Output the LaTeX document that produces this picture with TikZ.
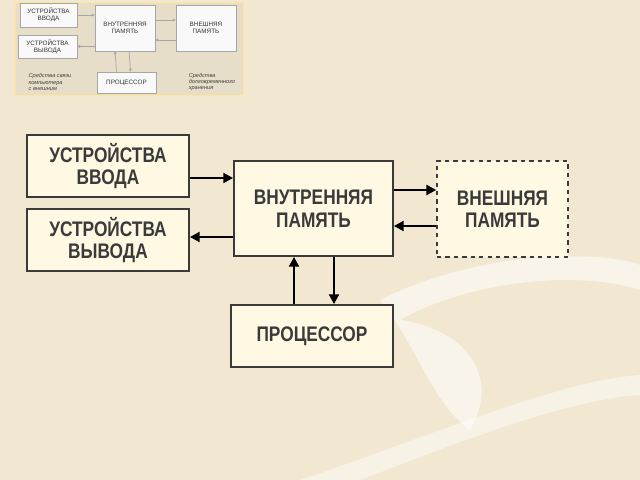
\documentclass[tikz,border=0pt]{standalone}
\usepackage{fontspec}
\setmainfont{Liberation Sans}
\newfontfamily\narrowfont[FakeStretch=0.82]{Liberation Sans}
\usetikzlibrary{arrows.meta}
\definecolor{bgcol}{HTML}{F2E8D2}
\definecolor{boxcol}{HTML}{FFF8E2}
\definecolor{edgecol}{HTML}{3A3A3A}
\begin{document}
\begin{tikzpicture}[x=0.025cm,y=-0.025cm,
  unit/.style={draw=edgecol,line width=1.2pt,fill=boxcol,align=center,font=\narrowfont\bfseries\fontsize{15}{16}\selectfont,text=edgecol,inner sep=0pt},
  link/.style={-{Triangle[length=7pt,width=7pt]},line width=1.8pt,black},
  mini/.style={draw=gray!70,fill=white!95!gray,align=center,font=\fontsize{4.5}{5}\selectfont,text=black!80,inner sep=0pt},
  minilink/.style={-{Triangle[length=2pt,width=2pt]},gray!70,line width=0.5pt}]
\useasboundingbox (0,0) rectangle (640,480);
% background
\fill[bgcol] (0,0) rectangle (640,480);
\fill[white,opacity=0.55] (380,300) .. controls (480,250) and (600,250) .. (640,265) -- (640,290) .. controls (580,270) and (470,280) .. (400,320) .. controls (470,330) and (500,380) .. (470,430) .. controls (430,400) and (420,350) .. cycle;
\fill[white,opacity=0.45] (300,480) .. controls (420,440) and (560,380) .. (640,375) -- (640,395) .. controls (560,400) and (440,450) .. (360,480) -- cycle;
% thumbnail
\fill[draw=yellow!60!orange!40,fill=gray!10!bgcol] (15,2) rectangle (243,95);
\node[mini,minimum width=1.425cm,minimum height=0.6cm] (ti) at (48.5,15) {УСТРОЙСТВА\\ВВОДА};
\node[mini,minimum width=1.475cm,minimum height=0.575cm] (to) at (47.5,46.5) {УСТРОЙСТВА\\ВЫВОДА};
\node[mini,minimum width=1.5cm,minimum height=1.15cm] (tm) at (125,28) {ВНУТРЕННЯЯ\\ПАМЯТЬ};
\node[mini,minimum width=1.5cm,minimum height=1.15cm] (te) at (206,28) {ВНЕШНЯЯ\\ПАМЯТЬ};
\node[mini,minimum width=1.475cm,minimum height=0.525cm] (tp) at (126.5,82.5) {ПРОЦЕССОР};
\node[font=\itshape\fontsize{4}{4.5}\selectfont,align=left,text=black!75] (tc1) at (50,82) {Средства связи\\компьютера\\с внешним};
\node[font=\itshape\fontsize{4}{4.5}\selectfont,align=left,text=black!75] (tc2) at (212,82) {Средства\\долговременного\\хранения};
\draw[minilink] (ti.east) -- (ti.east -| tm.west);
\draw[minilink] (to.east -| tm.west) -- (to.east);
\draw[minilink] ([yshift=0.2cm]tm.east) -- ([yshift=0.2cm]te.west);
\draw[minilink] ([yshift=-0.3cm]te.west) -- ([yshift=-0.3cm]tm.east);
\draw[minilink] ([xshift=-0.25cm]tp.north) -- ([xshift=-0.25cm]tm.south);
\draw[minilink] ([xshift=0.1cm]tm.south) -- ([xshift=0.1cm]tp.north);
% main diagram
\node[unit,minimum width=4.05cm,minimum height=1.55cm] (inp) at (108,166) {УСТРОЙСТВА\\ВВОДА};
\node[unit,minimum width=4.05cm,minimum height=1.55cm] (outp) at (108,240) {УСТРОЙСТВА\\ВЫВОДА};
\node[unit,minimum width=3.975cm,minimum height=2.375cm] (intm) at (313.5,208.5) {ВНУТРЕННЯЯ\\ПАМЯТЬ};
\node[unit,dashed,line width=1pt,minimum width=3.275cm,minimum height=2.4cm] (extm) at (502.5,209) {ВНЕШНЯЯ\\ПАМЯТЬ};
\node[unit,minimum width=4.05cm,minimum height=1.55cm] (cpu) at (312,336) {ПРОЦЕССОР};
\draw[link] (inp.east |- 0,178) -- (intm.west |- 0,178);
\draw[link] (intm.west |- 0,237) -- (outp.east |- 0,237);
\draw[link] (intm.east |- 0,190) -- (extm.west |- 0,190);
\draw[link] (extm.west |- 0,226) -- (intm.east |- 0,226);
\draw[link] (cpu.north -| 294,0) -- (intm.south -| 294,0);
\draw[link] (intm.south -| 334,0) -- (cpu.north -| 334,0);
\end{tikzpicture}
\end{document}
